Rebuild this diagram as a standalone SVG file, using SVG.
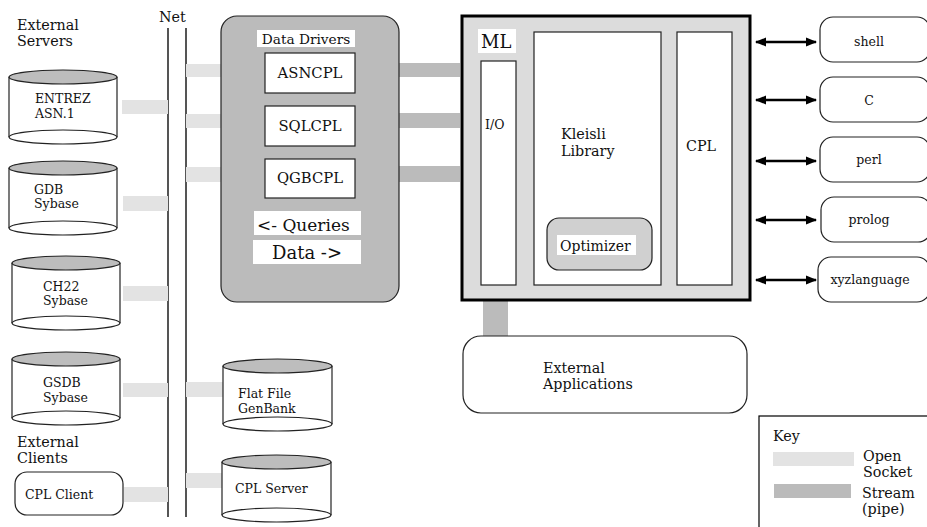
<svg xmlns="http://www.w3.org/2000/svg" width="927" height="527" viewBox="0 0 927 527" font-family="'DejaVu Serif', 'Liberation Serif', serif">
<style>
text{font-family:'DejaVu Serif','Liberation Serif',serif;fill:#111}
.t{font-size:14.3px}
.s{font-size:12.5px}
.b{font-size:14.8px}
.q{font-size:17px}
.sock{fill:#e3e3e3}
.strm{fill:#bbbbbb}
.cb{fill:#fff;stroke:none}
.cs{stroke:#222;stroke-width:1.2;fill:none}
.ce{fill:#fff;stroke:#222;stroke-width:1.2}
.ct{fill:#bdbdbd;stroke:#222;stroke-width:1.2}
.wb{fill:#fff;stroke:#222;stroke-width:1.2}
.lab{fill:#fff}
.net{stroke:#555;stroke-width:2}
.arr{stroke:#000;stroke-width:2.5;marker-start:url(#ah);marker-end:url(#ah)}
</style>
<defs>
<marker id="ah" viewBox="0 0 10 10" refX="9" refY="5" markerWidth="4.5" markerHeight="4.5" orient="auto-start-reverse" markerUnits="strokeWidth">
<path d="M0,1 L10,5 L0,9 z" fill="#000"/>
</marker>
</defs>
<rect width="927" height="527" fill="#fff"/>

<g id="labels">
<text class="t" x="17" y="30">External</text>
<text class="t" x="17" y="46">Servers</text>
<text class="t" x="159" y="22">Net</text>
<text class="t" x="17" y="447">External</text>
<text class="t" x="17" y="463">Clients</text>
</g>

<g id="net">
<line class="net" x1="168" y1="28" x2="168" y2="517"/>
<line class="net" x1="186" y1="28" x2="186" y2="517"/>
</g>

<g id="connectors">
<rect class="sock" x="122" y="100" width="46" height="14"/>
<rect class="sock" x="123" y="196" width="45" height="15"/>
<rect class="sock" x="123" y="286" width="45" height="15"/>
<rect class="sock" x="123" y="383" width="45" height="14"/>
<rect class="sock" x="124" y="487" width="44" height="15"/>
<rect class="sock" x="186" y="64" width="79" height="13"/>
<rect class="sock" x="186" y="114" width="79" height="14"/>
<rect class="sock" x="186" y="167" width="79" height="15"/>
<rect class="sock" x="186" y="382" width="37" height="15"/>
<rect class="sock" x="186" y="473" width="36" height="15"/>
<rect class="strm" x="355" y="63" width="105" height="14"/>
<rect class="strm" x="355" y="113" width="105" height="15"/>
<rect class="strm" x="355" y="166" width="105" height="16"/>
<rect class="strm" x="483" y="300" width="25" height="36"/>
<line class="arr" x1="756" y1="42" x2="816" y2="42"/>
<line class="arr" x1="756" y1="100" x2="816" y2="100"/>
<line class="arr" x1="756" y1="161" x2="816" y2="161"/>
<line class="arr" x1="756" y1="220" x2="816" y2="220"/>
<line class="arr" x1="756" y1="280" x2="816" y2="280"/>
</g>

<g id="entrez">
<rect class="cb" x="9" y="77" width="108" height="60"/>
<line class="cs" x1="9" y1="77" x2="9" y2="137"/><line class="cs" x1="117" y1="77" x2="117" y2="137"/>
<ellipse class="ce" cx="63" cy="137" rx="54" ry="7"/>
<ellipse class="ct" cx="63" cy="77" rx="54" ry="7"/>
<text class="s" x="35" y="103">ENTREZ</text>
<text class="s" x="35" y="118">ASN.1</text>
</g>

<g id="gdb">
<rect class="cb" x="9" y="168" width="108" height="60"/>
<line class="cs" x1="9" y1="168" x2="9" y2="228"/><line class="cs" x1="117" y1="168" x2="117" y2="228"/>
<ellipse class="ce" cx="63" cy="228" rx="54" ry="7"/>
<ellipse class="ct" cx="63" cy="168" rx="54" ry="7"/>
<text class="s" x="34" y="194">GDB</text>
<text class="s" x="34" y="208">Sybase</text>
</g>

<g id="ch22">
<rect class="cb" x="12" y="263" width="108" height="60"/>
<line class="cs" x1="12" y1="263" x2="12" y2="323"/><line class="cs" x1="120" y1="263" x2="120" y2="323"/>
<ellipse class="ce" cx="66" cy="323" rx="54" ry="7"/>
<ellipse class="ct" cx="66" cy="263" rx="54" ry="7"/>
<text class="s" x="43" y="291">CH22</text>
<text class="s" x="43" y="305">Sybase</text>
</g>

<g id="gsdb">
<rect class="cb" x="12" y="359" width="108" height="59"/>
<line class="cs" x1="12" y1="359" x2="12" y2="418"/><line class="cs" x1="120" y1="359" x2="120" y2="418"/>
<ellipse class="ce" cx="66" cy="418" rx="54" ry="7"/>
<ellipse class="ct" cx="66" cy="359" rx="54" ry="7"/>
<text class="s" x="43" y="387">GSDB</text>
<text class="s" x="43" y="402">Sybase</text>
</g>

<g id="cplclient">
<rect class="wb" x="15" y="472" width="108" height="43" rx="12"/>
<text class="s" x="25" y="499">CPL Client</text>
</g>

<g id="flatfile">
<rect class="cb" x="223" y="366" width="109" height="58"/>
<line class="cs" x1="223" y1="366" x2="223" y2="424"/><line class="cs" x1="332" y1="366" x2="332" y2="424"/>
<ellipse class="ce" cx="277.5" cy="424" rx="54.5" ry="7"/>
<ellipse class="ct" cx="277.5" cy="366" rx="54.5" ry="7"/>
<text class="s" x="238" y="398">Flat File</text>
<text class="s" x="238" y="413">GenBank</text>
</g>

<g id="cplserver">
<rect class="cb" x="222" y="462" width="109" height="53"/>
<line class="cs" x1="222" y1="462" x2="222" y2="515"/><line class="cs" x1="331" y1="462" x2="331" y2="515"/>
<ellipse class="ce" cx="276.5" cy="515" rx="54.5" ry="7"/>
<ellipse class="ct" cx="276.5" cy="462" rx="54.5" ry="7"/>
<text class="s" x="235" y="493">CPL Server</text>
</g>

<g id="datadrivers">
<rect x="221" y="16" width="178" height="286" rx="16" fill="#bbbbbb" stroke="#222" stroke-width="1.2"/>
<rect class="lab" x="257" y="30" width="98" height="17"/>
<text x="306" y="44" text-anchor="middle" style="font-size:13.7px">Data Drivers</text>
<rect class="lab" x="254" y="211" width="107" height="24"/>
<text class="q" x="257" y="231">&lt;- Queries</text>
<rect class="lab" x="253" y="240" width="108" height="24"/>
<text x="307" y="259" text-anchor="middle" style="font-size:18px">Data -&gt;</text>
</g>

<g id="asncpl">
<rect class="wb" x="265" y="53" width="90" height="40"/>
<text class="b" x="310" y="78" text-anchor="middle">ASNCPL</text>
</g>
<g id="sqlcpl">
<rect class="wb" x="265" y="106" width="90" height="40"/>
<text class="b" x="310" y="131" text-anchor="middle">SQLCPL</text>
</g>
<g id="qgbcpl">
<rect class="wb" x="265" y="159" width="90" height="39"/>
<text class="b" x="310" y="183" text-anchor="middle">QGBCPL</text>
</g>

<g id="ml">
<rect x="462" y="16" width="288" height="284" fill="#dcdcdc" stroke="#000" stroke-width="3"/>
<rect class="lab" x="478" y="29" width="38" height="24"/>
<text x="481" y="48" style="font-size:18px">ML</text>
</g>
<g id="io">
<rect class="wb" x="481" y="61" width="35" height="224"/>
<text x="485" y="129" style="font-size:12.5px">I/O</text>
</g>
<g id="kleisli">
<rect class="wb" x="534" y="32" width="127" height="253"/>
<text class="t" x="561" y="139">Kleisli</text>
<text class="t" x="561" y="156">Library</text>
</g>
<g id="optimizer">
<rect x="547" y="218" width="105" height="52" rx="12" fill="#d0d0d0" stroke="#222" stroke-width="1.2"/>
<rect class="lab" x="557" y="235" width="79" height="20"/>
<text x="560" y="251" style="font-size:14px">Optimizer</text>
</g>
<g id="cpl">
<rect class="wb" x="677" y="32" width="55" height="253"/>
<text class="t" x="686" y="151">CPL</text>
</g>

<g id="shell"><rect class="wb" x="820" y="17" width="110" height="45" rx="13"/><text class="s" x="869" y="46" text-anchor="middle">shell</text></g>
<g id="c"><rect class="wb" x="820" y="77" width="110" height="45" rx="13"/><text class="s" x="869" y="105" text-anchor="middle">C</text></g>
<g id="perl"><rect class="wb" x="820" y="137" width="110" height="45" rx="13"/><text class="s" x="869" y="164" text-anchor="middle">perl</text></g>
<g id="prolog"><rect class="wb" x="821" y="197" width="110" height="45" rx="13"/><text class="s" x="869" y="224" text-anchor="middle">prolog</text></g>
<g id="xyzlanguage"><rect class="wb" x="818" y="257" width="112" height="45" rx="13"/><text class="s" x="870" y="284" text-anchor="middle">xyzlanguage</text></g>

<g id="extapps">
<rect class="wb" x="463" y="336" width="284" height="77" rx="18"/>
<text class="t" x="543" y="373">External</text>
<text class="t" x="543" y="389">Applications</text>
</g>

<g id="key">
<rect x="759" y="416" width="180" height="120" fill="#fff" stroke="#000" stroke-width="1.2"/>
<text class="t" x="773" y="441">Key</text>
<rect class="sock" x="773" y="452" width="81" height="14"/>
<text class="t" x="863" y="461">Open</text>
<text class="t" x="863" y="477">Socket</text>
<rect class="strm" x="774" y="484" width="77" height="14"/>
<text class="t" x="862" y="498">Stream</text>
<text class="t" x="862" y="514">(pipe)</text>
</g>
</svg>
